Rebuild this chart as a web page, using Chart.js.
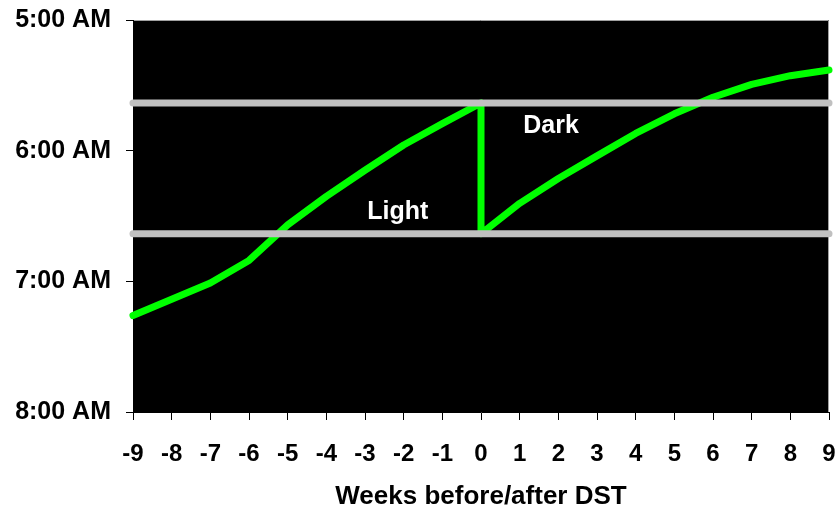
<!DOCTYPE html>
<html>
<head>
<meta charset="utf-8">
<title>Sunrise around DST</title>
<script src="https://cdn.jsdelivr.net/npm/chart.js@4.4.1/dist/chart.umd.min.js"></script>
<style>
  body { margin: 0; background: #fff; }
</style>
</head>
<body>
<canvas id="chart" width="839" height="510"></canvas>
<script>
// sunrise time, in hours after midnight, week by week around the clock change
const weeksBefore = [-9, -8, -7, -6, -5, -4, -3, -2, -1, 0];
const sunriseBefore = [7.262, 7.137, 7.012, 6.840, 6.568, 6.350, 6.150, 5.957, 5.793, 5.635];
const weeksAfter = [0, 1, 2, 3, 4, 5, 6, 7, 8, 9];
const sunriseAfter = [6.635, 6.403, 6.213, 6.040, 5.868, 5.718, 5.591, 5.493, 5.426, 5.383];

// grey reference lines (same wake-up hour, before and after the switch)
const refHours = [5.635, 6.635];
const weekRange = [-9, 9];
const hourTicks = [5, 6, 7, 8];

// text inside the plot
const zoneLabels = ['Light', 'Dark'];
const zoneWeeks = [-2.15, 1.81];
const zoneHours = [6.469, 5.811];

const FONT = '"Liberation Sans", Arial, sans-serif';

const plotBg = {
    id: 'plotBg',
    beforeDraw(chart) {
        const { ctx, chartArea: a } = chart;
        ctx.save();
        ctx.fillStyle = '#000';
        ctx.fillRect(a.left, a.top, a.right - a.left, a.bottom - a.top);
        // thin grey frame on top and right
        ctx.strokeStyle = '#a0a0a0';
        ctx.lineWidth = 1;
        ctx.beginPath();
        ctx.moveTo(a.left, a.top + 0.5);
        ctx.lineTo(a.right - 0.5, a.top + 0.5);
        ctx.lineTo(a.right - 0.5, a.bottom);
        ctx.stroke();
        ctx.restore();
    },
    afterDatasetsDraw(chart) {
        const { ctx } = chart;
        const { x, y } = chart.scales;
        ctx.save();
        ctx.fillStyle = '#fff';
        ctx.font = 'bold 25px ' + FONT;
        ctx.textAlign = 'center';
        ctx.textBaseline = 'middle';
        zoneLabels.forEach((t, i) => {
            ctx.fillText(t, x.getPixelForValue(zoneWeeks[i]), y.getPixelForValue(zoneHours[i]));
        });
        ctx.restore();
    }
};

const sunrise = weeksBefore.map((w, i) => ({ x: w, y: sunriseBefore[i] }))
    .concat(weeksAfter.map((w, i) => ({ x: w, y: sunriseAfter[i] })));

const refDatasets = refHours.map(h => ({
    data: weekRange.map(w => ({ x: w, y: h })),
    showLine: true,
    borderColor: '#c0c0c0',
    borderWidth: 7,
    borderCapStyle: 'round',
    pointRadius: 0,
    clip: false,
    order: 0
}));

new Chart(document.getElementById('chart'), {
    type: 'scatter',
    data: {
        datasets: [
            {
                data: sunrise,
                showLine: true,
                borderColor: '#00ff00',
                borderWidth: 7,
                borderCapStyle: 'round',
                borderJoinStyle: 'round',
                tension: 0,
                pointRadius: 0,
                clip: false,
                order: 1
            },
            ...refDatasets
        ]
    },
    options: {
        responsive: false,
        animation: false,
        layout: { padding: { top: 20, right: 10, left: 0, bottom: 0 } },
        plugins: {
            legend: { display: false },
            tooltip: { enabled: false }
        },
        scales: {
            x: {
                type: 'linear',
                min: weekRange[0],
                max: weekRange[1],
                ticks: {
                    stepSize: 1,
                    color: '#000',
                    padding: 20,
                    font: { family: FONT, size: 24, weight: 'bold' }
                },
                grid: { drawOnChartArea: false, color: '#000', tickLength: 8 },
                border: { color: '#000' },
                title: {
                    display: true,
                    text: 'Weeks before/after DST',
                    color: '#000',
                    padding: { top: 0, bottom: -2 },
                    font: { family: FONT, size: 26, weight: 'bold' }
                },
                afterFit(s) {
                    s.height = 98;
                    s.paddingLeft = 0;
                    s.paddingRight = 0;
                }
            },
            y: {
                type: 'linear',
                reverse: true,
                min: hourTicks[0],
                max: hourTicks[hourTicks.length - 1],
                afterBuildTicks(s) { s.ticks = hourTicks.map(v => ({ value: v })); },
                ticks: {
                    color: '#000',
                    padding: 15,
                    font: { family: FONT, size: 25, weight: 'bold' },
                    callback: v => v + ':00 AM'
                },
                grid: { drawOnChartArea: false, color: '#000', tickLength: 7 },
                border: { color: '#000' },
                afterFit(s) {
                    s.width = 133;
                    s.paddingTop = 0;
                    s.paddingBottom = 0;
                }
            }
        }
    },
    plugins: [plotBg]
});
</script>
</body>
</html>
